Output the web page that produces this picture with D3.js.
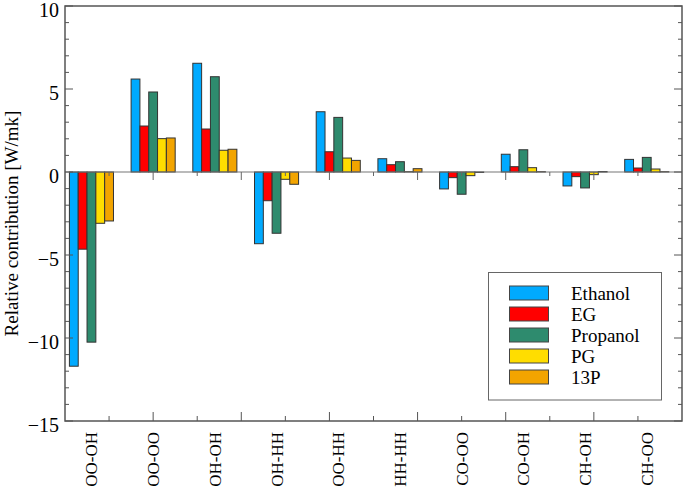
<!DOCTYPE html>
<html>
<head>
<meta charset="utf-8">
<script src="https://cdn.jsdelivr.net/npm/d3@7"></script>
<style>
  html, body { margin: 0; padding: 0; background: #fff; }
  svg { display: block; }
</style>
</head>
<body>
<svg id="chart" width="685" height="493" font-family="'Liberation Serif', 'Times New Roman', Times, 'DejaVu Serif', serif"></svg>
<script>
const categories = ["OO-OH", "OO-OO", "OH-OH", "OH-HH", "OO-HH", "HH-HH", "CO-OO", "CO-OH", "CH-OH", "CH-OO"];
const seriesNames = ["Ethanol", "EG", "Propanol", "PG", "13P"];
const ethanol  = [-11.7, 5.60, 6.55, -4.32, 3.63, 0.80, -1.02, 1.07, -0.84, 0.76];
const eg       = [-4.65, 2.77, 2.59, -1.73, 1.22, 0.44, -0.34, 0.32, -0.28, 0.24];
const propanol = [-10.25, 4.82, 5.74, -3.69, 3.29, 0.62, -1.34, 1.34, -0.96, 0.88];
const pg       = [-3.09, 2.01, 1.31, -0.44, 0.84, 0.02, -0.22, 0.26, -0.16, 0.18];
const p13      = [-2.95, 2.05, 1.37, -0.74, 0.70, 0.20, -0.03, 0.02, 0.03, 0.02];
const yTicks = [-15, -10, -5, 0, 5, 10];
const colors = ["#00aaff", "#ff0000", "#2e8b6e", "#ffdd00", "#f2a400"];

const seriesValues = [ethanol, eg, propanol, pg, p13];

const svg = d3.select("#chart");
const L = 65, R = 682, T = 6, B = 421;

const y = d3.scaleLinear().domain([-15, 10]).range([B, T]);
const xNum = d3.scaleLinear().domain([0, 7]).range([L, R]);
const x0 = d3.scaleBand().domain(categories).range([xNum(-0.05), xNum(6.95)]).padding(0);
const x1 = d3.scaleBand().domain(seriesNames).range([0, x0.bandwidth()]).paddingInner(0).paddingOuter(1);
const color = d3.scaleOrdinal().domain(seriesNames).range(colors);

const frameColor = "#555";

const groups = svg.append("g").selectAll("g")
  .data(categories).join("g")
  .attr("transform", d => `translate(${x0(d)},0)`);

groups.selectAll("rect")
  .data((c, i) => seriesNames.map((s, j) => ({ s, v: seriesValues[j][i] })))
  .join("rect")
  .attr("x", d => x1(d.s))
  .attr("width", x1.bandwidth())
  .attr("y", d => Math.min(y(d.v), y(0)))
  .attr("height", d => Math.abs(y(d.v) - y(0)))
  .attr("fill", d => color(d.s))
  .attr("stroke", "#333")
  .attr("stroke-width", 1);

svg.append("line")
  .attr("x1", L).attr("x2", R).attr("y1", y(0)).attr("y2", y(0))
  .attr("stroke", "#777").attr("stroke-width", 1.2);
const majorX = d3.range(1, 7);
const minorX = d3.range(0.5, 7, 1);
svg.append("g").selectAll("line").data(majorX).join("line")
  .attr("x1", d => xNum(d)).attr("x2", d => xNum(d))
  .attr("y1", y(0)).attr("y2", y(0) + 8)
  .attr("stroke", "#666").attr("stroke-width", 1);
svg.append("g").selectAll("line").data(minorX).join("line")
  .attr("x1", d => xNum(d)).attr("x2", d => xNum(d))
  .attr("y1", y(0)).attr("y2", y(0) + 4)
  .attr("stroke", "#666").attr("stroke-width", 1);

svg.append("rect")
  .attr("x", L).attr("y", T).attr("width", R - L).attr("height", B - T)
  .attr("fill", "none").attr("stroke", frameColor).attr("stroke-width", 1.5);

svg.append("g").selectAll("line").data(majorX).join("line")
  .attr("x1", d => xNum(d)).attr("x2", d => xNum(d))
  .attr("y1", B).attr("y2", B - 9)
  .attr("stroke", frameColor).attr("stroke-width", 1);
svg.append("g").selectAll("line").data(minorX).join("line")
  .attr("x1", d => xNum(d)).attr("x2", d => xNum(d))
  .attr("y1", B).attr("y2", B - 5)
  .attr("stroke", frameColor).attr("stroke-width", 1);

const yMinor = d3.range(-15, 11, 1).filter(v => v % 5 !== 0);
[[L, 1], [R, -1]].forEach(([xx, dir]) => {
  svg.append("g").selectAll("line").data(yTicks).join("line")
    .attr("x1", xx).attr("x2", xx + dir * 8)
    .attr("y1", d => y(d)).attr("y2", d => y(d))
    .attr("stroke", frameColor).attr("stroke-width", 1);
  svg.append("g").selectAll("line").data(yMinor).join("line")
    .attr("x1", xx).attr("x2", xx + dir * 4)
    .attr("y1", d => y(d)).attr("y2", d => y(d))
    .attr("stroke", frameColor).attr("stroke-width", 1);
});

svg.append("g").selectAll("text").data(yTicks).join("text")
  .attr("x", L - 6).attr("y", d => y(d) + 4)
  .attr("dy", "0.34em")
  .attr("text-anchor", "end")
  .attr("font-size", 20)
  .text(d => d < 0 ? "\u2212" + Math.abs(d) : d);

svg.append("text")
  .attr("transform", `translate(18,${(T + B) / 2 + 10}) rotate(-90)`)
  .attr("text-anchor", "middle")
  .attr("font-size", 19)
  .text("Relative contribution [W/mk]");

svg.append("g").selectAll("text").data(categories).join("text")
  .attr("transform", d => `translate(${x0(d) + x0.bandwidth() / 2 + 6},${B + 11}) rotate(-90)`)
  .attr("text-anchor", "end")
  .attr("font-size", 17)
  .text(d => d);

const lg = svg.append("g");
lg.append("rect")
  .attr("x", 488.5).attr("y", 272.5).attr("width", 173).attr("height", 127.5)
  .attr("fill", "#fff").attr("stroke", "#666").attr("stroke-width", 1);
const items = lg.selectAll("g").data(seriesNames).join("g")
  .attr("transform", (d, i) => `translate(0,${286 + i * 21})`);
items.append("rect")
  .attr("x", 509.5).attr("y", 0).attr("width", 39).attr("height", 14)
  .attr("fill", d => color(d)).attr("stroke", "#444").attr("stroke-width", 1);
items.append("text")
  .attr("x", 571).attr("y", 7).attr("dy", "0.36em")
  .attr("font-size", 19)
  .text(d => d);
</script>
</body>
</html>
